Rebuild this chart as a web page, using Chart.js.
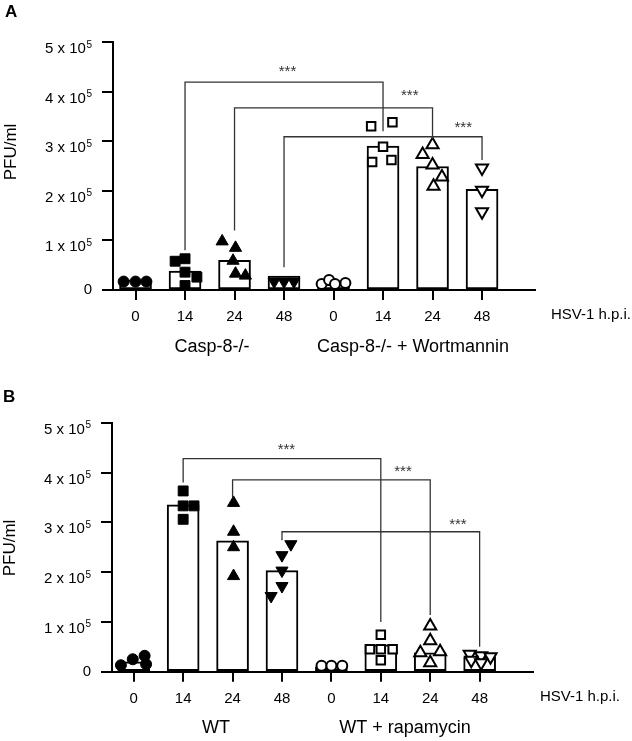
<!DOCTYPE html>
<html><head><meta charset="utf-8">
<script src="https://cdn.jsdelivr.net/npm/chart.js@4.4.1/dist/chart.umd.min.js"></script>
<style>
html,body{margin:0;padding:0;background:#fff;}
#wrap{position:relative;width:632px;height:741px;overflow:hidden;}
#cA{position:absolute;left:0;top:0;}
#cB{position:absolute;left:0;top:370px;}
</style></head><body>
<div id="wrap">
<canvas id="cA" width="632" height="370"></canvas>
<canvas id="cB" width="632" height="371"></canvas>
</div>
<script>
// ---------- data ----------
const timepoints = ['0', '14', '24', '48', '0', '14', '24', '48'];
const axisCaption = 'HSV-1 h.p.i.';
const yTitle = 'PFU/ml';
const yTickValues = [0, 100000, 200000, 300000, 400000, 500000];
const yTickMantissa = ['0', '1', '2', '3', '4', '5'];
const yTickExponent = '5';

const groupsA = ['Casp-8-/-', 'Casp-8-/- + Wortmannin'];
const barsA = [20000, 38000, 60000, 28000, 12000, 290000, 249000, 203000];
const pointsA = [
  [17000, 17000, 17000],
  [58000, 63000, 36000, 26000, 9000],
  [98000, 85000, 59000, 33000, 29000],
  [17000, 17000, 17000],
  [12000, 20000, 12000, 14000],
  [330000, 338000, 289000, 258000, 262000],
  [293000, 273000, 252000, 228000, 209000],
  [246000, 201000, 158000]
];
// significance brackets: [fromIndex, toIndex, level, leftEnd, rightEnd]
const bracketsA = [
  [1, 5, 419000, 80000, 320000],
  [2, 6, 367000, 120000, 305000],
  [3, 7, 309000, 46000, 262000]
];
const starsA = ['***', '***', '***'];

const groupsB = ['WT', 'WT + rapamycin'];
const barsB = [20000, 335000, 263000, 203000, 10000, 54000, 38000, 30000];
const pointsB = [
  [13000, 25000, 32000, 15000],
  [363000, 333000, 333000, 306000],
  [339000, 281000, 250000, 192000],
  [256000, 234000, 203000, 172000, 152000],
  [12000, 12000, 12000],
  [74000, 45000, 45000, 45000, 23000],
  [92000, 62000, 38000, 40000, 18000],
  [35000, 32000, 30000, 23000, 18000]
];
const bracketsB = [
  [1, 5, 428000, 380000, 100000],
  [2, 6, 385000, 351000, 114000],
  [3, 7, 281000, 264000, 50000]
];
const starsB = ['***', '***', '***'];

// ---------- layout / style (not data) ----------
const FONT = "'Liberation Sans', Arial, sans-serif";
const jitterA = [
  [-0.24, 0, 0.22],
  [-0.2, 0, 0, 0.24, 0],
  [-0.25, 0.02, -0.03, 0.02, 0.22],
  [-0.2, 0, 0.2],
  [-0.24, -0.09, 0.03, 0.24],
  [-0.24, 0.19, 0, -0.22, 0.17],
  [0, -0.2, 0, 0.19, 0.02],
  [0, 0, 0]
];
const jitterB = [
  [-0.26, -0.02, 0.22, 0.25],
  [0, 0, 0.22, 0],
  [0.02, 0.02, 0.02, 0.02],
  [0.18, 0, 0, 0, -0.22],
  [-0.2, 0, 0.22],
  [0, -0.22, 0, 0.24, 0],
  [0, 0, -0.2, 0.2, 0],
  [-0.2, 0.03, 0.22, -0.17, 0.03]
];
const starPosA = [[3.07, 432000], [5.54, 383000], [6.62, 319000]];
const starPosB = [[3.09, 438000], [5.45, 393000], [6.56, 286000]];

function markerStyles() {
  const f = '#000', o = '#fff';
  return [
    {shape: 'circle', rot: 0, r: 5.5, fill: f, bw: 1},
    {shape: 'rect', rot: 0, r: 7, fill: f, bw: 1},
    {shape: 'triangle', rot: 0, r: 7, fill: f, bw: 1},
    {shape: 'triangle', rot: 180, r: 7, fill: f, bw: 1},
    {shape: 'circle', rot: 0, r: 5, fill: o, bw: 2},
    {shape: 'rect', rot: 0, r: 6, fill: o, bw: 2},
    {shape: 'triangle', rot: 0, r: 7, fill: o, bw: 2},
    {shape: 'triangle', rot: 180, r: 7, fill: o, bw: 2}
  ];
}

function makeChart(id, o) {
  const styles = markerStyles();
  const ds = [];
  ds.push({
    type: 'bar',
    data: o.bars.map((v, i) => ({x: i, y: v})),
    backgroundColor: '#fff', borderColor: '#000', borderWidth: 2,
    borderSkipped: false, barThickness: 32, grouped: false, order: 3
  });
  o.points.forEach((vals, i) => {
    const st = styles[i];
    ds.push({
      type: 'scatter',
      data: vals.map((v, k) => ({x: i + o.jitter[i][k], y: v})),
      pointStyle: st.shape, pointRotation: st.rot, pointRadius: st.r,
      pointHoverRadius: st.r,
      backgroundColor: st.fill, borderColor: '#000', borderWidth: st.bw,
      order: 2
    });
  });
  o.brackets.forEach(b => {
    ds.push({
      type: 'line',
      data: [{x: b[0], y: b[3]}, {x: b[0], y: b[2]}, {x: b[1], y: b[2]}, {x: b[1], y: b[4]}],
      borderColor: '#333', borderWidth: 1.3, pointRadius: 0, fill: false,
      tension: 0, order: 1
    });
  });

  const texts = {
    id: 'texts_' + id,
    afterDraw(chart) {
      const ctx = chart.ctx;
      const xs = chart.scales.x, ys = chart.scales.y;
      ctx.save();
      ctx.fillStyle = '#000';
      // y tick labels with superscript exponent
      const xr = ys.right - 11 - 10;
      yTickValues.forEach((v, i) => {
        const py = ys.getPixelForValue(v);
        ctx.textAlign = 'right';
        if (v === 0) {
          ctx.font = '15px ' + FONT; ctx.textBaseline = 'middle';
          ctx.fillText(yTickMantissa[i], xr, py);
        } else {
          ctx.textBaseline = 'alphabetic';
          ctx.font = '10px ' + FONT;
          ctx.fillText(yTickExponent, xr, py + 5.5);
          const w = ctx.measureText(yTickExponent).width;
          ctx.font = '15px ' + FONT;
          ctx.fillText(yTickMantissa[i] + ' x 10', xr - w - 0.5, py + 11);
        }
      });
      // panel letter
      ctx.font = 'bold 17px ' + FONT;
      ctx.textAlign = 'left'; ctx.textBaseline = 'alphabetic';
      ctx.fillText(o.letter, o.letterPos[0], o.letterPos[1]);
      // y title
      ctx.save();
      ctx.translate(o.yTitlePos[0], o.yTitlePos[1]);
      ctx.rotate(-Math.PI / 2);
      ctx.font = '17px ' + FONT;
      ctx.textAlign = 'center'; ctx.textBaseline = 'middle';
      ctx.fillText(yTitle, 0, 0);
      ctx.restore();
      // x caption
      ctx.font = '15px ' + FONT;
      ctx.textAlign = 'left'; ctx.textBaseline = 'middle';
      ctx.fillText(axisCaption, o.captionPos[0], o.captionPos[1]);
      // group labels
      ctx.font = '18px ' + FONT;
      ctx.textAlign = 'center';
      o.groups.forEach((g, i) => ctx.fillText(g, o.groupX[i], o.groupY));
      // significance stars
      ctx.fillStyle = '#333';
      ctx.font = '15px ' + FONT;
      ctx.textAlign = 'center'; ctx.textBaseline = 'alphabetic';
      o.stars.forEach((s, i) => {
        ctx.fillText(s, xs.getPixelForValue(o.starPos[i][0]), ys.getPixelForValue(o.starPos[i][1]));
      });
      ctx.restore();
    }
  };

  return new Chart(document.getElementById(id), {
    type: 'bar',
    data: {datasets: ds},
    plugins: [texts],
    options: {
      responsive: false, animation: false, devicePixelRatio: 1,
      layout: {autoPadding: false, padding: {left: 0, top: o.top, right: o.W - o.right, bottom: 0}},
      plugins: {legend: {display: false}, tooltip: {enabled: false}},
      scales: {
        x: {
          type: 'linear', min: o.xMin, max: o.xMax, offset: false,
          afterBuildTicks: s => { s.ticks = timepoints.map((_, i) => ({value: i})); },
          afterFit: s => { s.height = o.H - o.bottom; },
          ticks: {
            callback: v => timepoints[v], color: '#000',
            font: {family: FONT, size: 15}, padding: 8,
            maxRotation: 0, minRotation: 0, autoSkip: false
          },
          grid: {offset: false, drawOnChartArea: false, drawTicks: true, tickLength: 10, color: '#000', lineWidth: 2},
          border: {display: true, color: '#000', width: 2}
        },
        y: {
          type: 'linear', min: 0, max: 500000,
          afterBuildTicks: s => { s.ticks = yTickValues.map(v => ({value: v})); },
          afterFit: s => { s.width = o.left; },
          ticks: {display: false},
          grid: {drawOnChartArea: false, drawTicks: true, tickLength: 11, color: '#000', lineWidth: 2},
          border: {display: true, color: '#000', width: 2}
        }
      }
    }
  });
}

makeChart('cA', {
  W: 632, H: 370, left: 113, right: 535, top: 42, bottom: 290,
  xMin: -0.455, xMax: 8.07,
  bars: barsA, points: pointsA, jitter: jitterA, brackets: bracketsA,
  stars: starsA, starPos: starPosA, groups: groupsA,
  letter: 'A', letterPos: [5, 17], yTitlePos: [11, 152],
  captionPos: [551, 315], groupX: [212, 413], groupY: 347
});
makeChart('cB', {
  W: 632, H: 371, left: 112, right: 533, top: 52.7, bottom: 301.7,
  xMin: -0.44, xMax: 8.08,
  bars: barsB, points: pointsB, jitter: jitterB, brackets: bracketsB,
  stars: starsB, starPos: starPosB, groups: groupsB,
  letter: 'B', letterPos: [3, 32], yTitlePos: [10, 178],
  captionPos: [540, 326.7], groupX: [216, 405], groupY: 358
});
</script>
</body></html>
